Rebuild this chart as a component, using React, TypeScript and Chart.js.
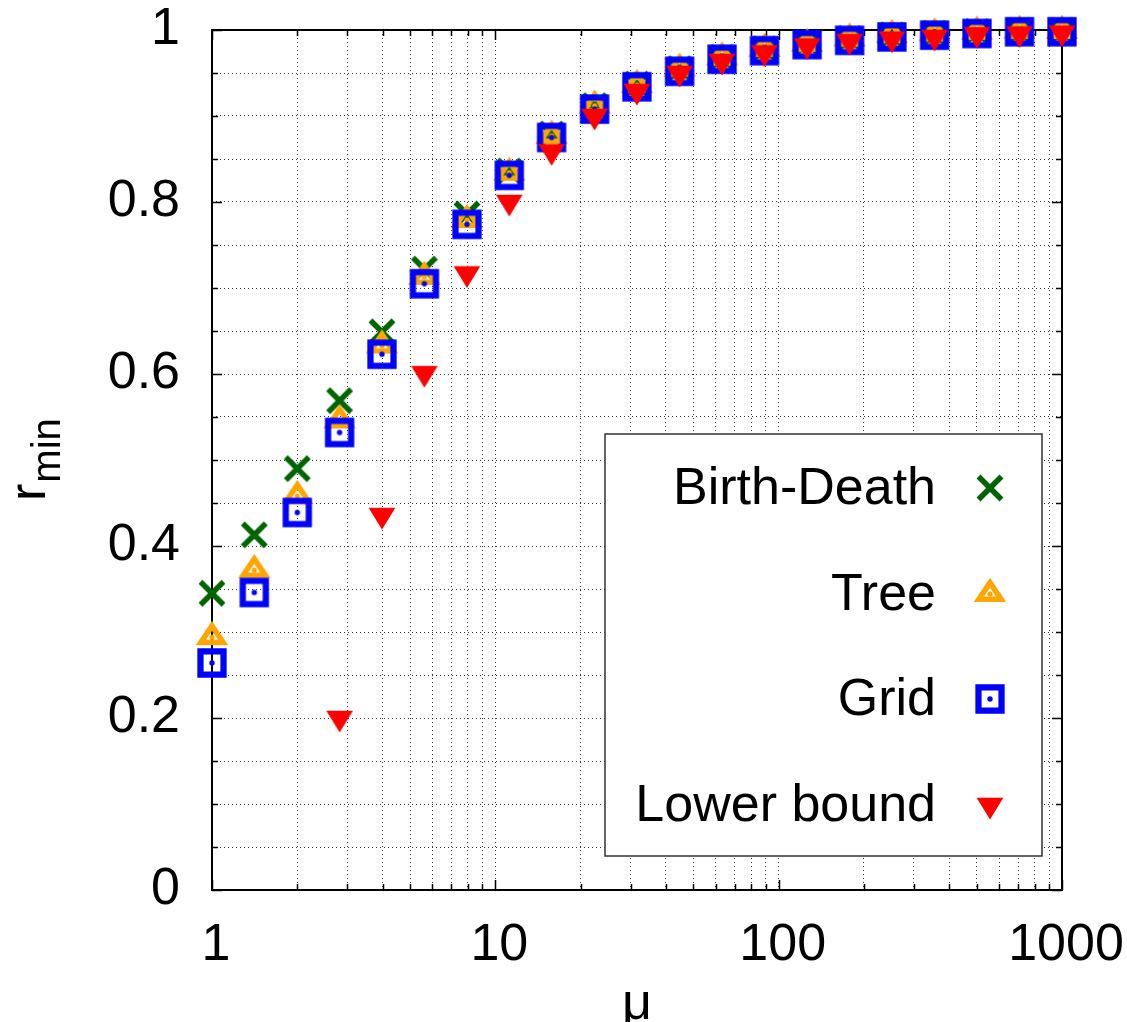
import React, { useEffect, useRef } from 'react';
import { Chart, registerables } from 'chart.js';

Chart.register(...registerables);

// ---- data ----
const muValues = [1, 1.41, 2, 2.82, 3.98, 5.62, 7.94, 11.2, 15.8, 22.4, 31.6, 44.7, 63.1, 89.1, 126, 178, 251, 355, 501, 708, 1000];
const birthDeath = [0.345, 0.413, 0.49, 0.569, 0.649, 0.722, 0.786, 0.836, 0.879, 0.912, 0.937, 0.955, 0.968, 0.978, 0.985, 0.99, 0.994, 0.996, 0.998, 0.999, 0.999];
const tree = [0.294, 0.372, 0.458, 0.546, 0.633, 0.713, 0.779, 0.834, 0.877, 0.912, 0.936, 0.955, 0.968, 0.978, 0.984, 0.99, 0.994, 0.996, 0.998, 0.999, 0.999];
const gridSeries = [0.264, 0.346, 0.439, 0.532, 0.623, 0.705, 0.774, 0.831, 0.875, 0.908, 0.934, 0.952, 0.966, 0.976, 0.983, 0.988, 0.992, 0.994, 0.996, 0.998, 0.998];
const lowerBound: (number | null)[] = [null, null, null, 0.2, 0.436, 0.601, 0.717, 0.8, 0.859, 0.9, 0.929, 0.95, 0.964, 0.974, 0.982, 0.987, 0.99, 0.992, 0.995, 0.996, 0.997];
const seriesLabels = ['Birth-Death', 'Tree', 'Grid', 'Lower bound'];
const xTickLabels = ['1', '10', '100', '1000'];
const yTickLabels = ['0', '0.2', '0.4', '0.6', '0.8', '1'];
const xTitle = 'μ';
const yTitleMain = 'r';
const yTitleSub = 'min';

const FONT = '"Liberation Sans", Arial, sans-serif';

function mkCanvas(size: number) {
  const c = document.createElement('canvas');
  c.width = size;
  c.height = size;
  return c;
}

function crossMarker() {
  const c = mkCanvas(34);
  const g = c.getContext('2d')!;
  const m = 17, d = 11.5;
  g.strokeStyle = '#006400';
  g.lineWidth = 5.5;
  g.lineCap = 'butt';
  g.beginPath();
  g.moveTo(m - d, m - d); g.lineTo(m + d, m + d);
  g.moveTo(m + d, m - d); g.lineTo(m - d, m + d);
  g.stroke();
  return c;
}

function triangleMarker() {
  const c = mkCanvas(40);
  const g = c.getContext('2d')!;
  const cx = 20, cy = 20;
  const v = [[cx, cy - 16.2], [cx - 16.3, cy + 8.1], [cx + 16.3, cy + 8.1]];
  const rin = 8.69;
  const ix = cx, iy = cy + 8.1 - rin;
  const f = (rin - 5.5) / rin;
  const inner = v.map(([x, y]) => [ix + f * (x - ix), iy + f * (y - iy)]);
  g.fillStyle = '#ffa500';
  g.beginPath();
  g.moveTo(v[0][0], v[0][1]); g.lineTo(v[1][0], v[1][1]); g.lineTo(v[2][0], v[2][1]); g.closePath();
  g.moveTo(inner[0][0], inner[0][1]); g.lineTo(inner[2][0], inner[2][1]); g.lineTo(inner[1][0], inner[1][1]); g.closePath();
  g.fill('evenodd');
  g.beginPath();
  g.arc(cx, cy, 2.6, 0, Math.PI * 2);
  g.fill();
  return c;
}

function squareMarker() {
  const c = mkCanvas(36);
  const g = c.getContext('2d')!;
  const m = 18, o = 14.65, i = 8.4;
  g.fillStyle = '#0000ff';
  g.beginPath();
  g.rect(m - o, m - o, 2 * o, 2 * o);
  g.rect(m - i, m - i, 2 * i, 2 * i);
  g.fill('evenodd');
  g.beginPath();
  g.arc(m, m, 2.7, 0, Math.PI * 2);
  g.fill();
  return c;
}

function downTriangleMarker() {
  const c = mkCanvas(34);
  const g = c.getContext('2d')!;
  const m = 17;
  g.fillStyle = '#ff0000';
  g.beginPath();
  g.moveTo(m - 13.35, m - 7.2);
  g.lineTo(m + 13.35, m - 7.2);
  g.lineTo(m, m + 14.5);
  g.closePath();
  g.fill();
  return c;
}

function toPoints(vals: (number | null)[]) {
  const pts: { x: number; y: number }[] = [];
  vals.forEach((v, i) => {
    if (v !== null && v !== undefined) pts.push({ x: muValues[i], y: v });
  });
  return pts;
}

function isPow10(v: number) {
  const l = Math.log10(v);
  return Math.abs(l - Math.round(l)) < 1e-9;
}
function isIntSignificand(v: number) {
  const p = Math.floor(Math.log10(v) + 1e-9);
  const s = v / Math.pow(10, p);
  return Math.abs(s - Math.round(s)) < 1e-6;
}

function zeroPad(s: any) {
  s.paddingTop = 0;
  s.paddingBottom = 0;
  s.paddingLeft = 0;
  s.paddingRight = 0;
}

export default function App() {
  const ref = useRef<HTMLCanvasElement | null>(null);

  useEffect(() => {
    if (!ref.current) return;
    const markers = [crossMarker(), triangleMarker(), squareMarker(), downTriangleMarker()];
    const series = [birthDeath, tree, gridSeries, lowerBound];
    const colors = ['#006400', '#ffa500', '#0000ff', '#ff0000'];

    const decor = {
      id: 'decor',
      beforeDatasetsDraw(chart: any) {
        const { ctx, chartArea: a, scales } = chart;
        ctx.save();
        ctx.strokeStyle = '#000';
        ctx.lineWidth = 1.5;
        ctx.beginPath();
        for (const t of scales.x.ticks) {
          const v = t.value;
          if (!isIntSignificand(v)) continue;
          const px = Math.round(scales.x.getPixelForValue(v)) + 0.5;
          const len = isPow10(v) ? 10 : 6;
          ctx.moveTo(px, a.bottom); ctx.lineTo(px, a.bottom - len);
          ctx.moveTo(px, a.top); ctx.lineTo(px, a.top + len);
        }
        for (const t of scales.y.ticks) {
          const v = t.value;
          const py = Math.round(scales.y.getPixelForValue(v)) + 0.5;
          const major = Math.abs(v * 5 - Math.round(v * 5)) < 1e-6;
          const len = major ? 10 : 6;
          ctx.moveTo(a.left, py); ctx.lineTo(a.left + len, py);
          ctx.moveTo(a.right, py); ctx.lineTo(a.right - len, py);
        }
        ctx.stroke();
        ctx.lineWidth = 2;
        ctx.strokeRect(a.left, a.top, a.right - a.left, a.bottom - a.top);
        ctx.restore();
      },
      afterDatasetsDraw(chart: any) {
        const { ctx, chartArea: a } = chart;
        const bx = a.left + 393, by = a.top + 404;
        const bw = a.right - 20 - bx, bh = a.bottom - 34 - by;
        ctx.save();
        ctx.fillStyle = '#fff';
        ctx.fillRect(bx, by, bw, bh);
        ctx.strokeStyle = '#333';
        ctx.lineWidth = 1.5;
        ctx.strokeRect(bx, by, bw, bh);
        ctx.font = `52px ${FONT}`;
        ctx.fillStyle = '#000';
        ctx.textAlign = 'right';
        ctx.textBaseline = 'alphabetic';
        const textRight = bx + 331;
        const markX = bx + 385;
        seriesLabels.forEach((lab, i) => {
          const base = by + 70 + i * 105.7;
          ctx.fillText(lab, textRight, base);
          const mk = markers[i];
          const my = base - 16;
          ctx.drawImage(mk, Math.round(markX - mk.width / 2), Math.round(my - mk.height / 2));
        });
        ctx.restore();
      },
      afterDraw(chart: any) {
        const { ctx, chartArea: a } = chart;
        ctx.save();
        ctx.fillStyle = '#000';
        ctx.font = `52px ${FONT}`;
        ctx.textAlign = 'center';
        ctx.textBaseline = 'alphabetic';
        ctx.fillText(xTitle, (a.left + a.right) / 2, 1019);
        ctx.translate(45, 501);
        ctx.rotate(-Math.PI / 2);
        ctx.textAlign = 'left';
        ctx.fillText(yTitleMain, 0, 0);
        const w = ctx.measureText(yTitleMain).width;
        ctx.font = `40px ${FONT}`;
        ctx.fillText(yTitleSub, w + 1, 15);
        ctx.restore();
      },
    };

    const gridColor = 'rgba(0,0,0,0.8)';
    const chart = new Chart(ref.current, {
      type: 'scatter',
      data: {
        datasets: seriesLabels.map((lab, i) => ({
          label: lab,
          data: toPoints(series[i]),
          pointStyle: markers[i] as any,
          pointRadius: 14,
          pointHoverRadius: 14,
          backgroundColor: colors[i],
          borderColor: colors[i],
          showLine: false,
          clip: false as any,
          order: 4 - i,
        })),
      },
      options: {
        responsive: false,
        animation: false,
        devicePixelRatio: 1,
        layout: { padding: { top: 30, right: 65, left: 0, bottom: 0 } },
        plugins: { legend: { display: false }, tooltip: { enabled: false } },
        events: [],
        scales: {
          x: {
            type: 'logarithmic',
            position: 'bottom',
            min: 1,
            max: 1000,
            afterFit(s: any) { s.height = 132; zeroPad(s); },
            grid: { color: gridColor, lineWidth: 1, drawTicks: false },
            border: { display: false, dash: [1, 3] },
            ticks: {
              autoSkip: false,
              maxRotation: 0,
              minRotation: 0,
              padding: 24,
              labelOffset: 4,
              color: '#000',
              font: { family: FONT, size: 52 },
              callback(value: any) {
                const v = Number(value);
                if (!isIntSignificand(v)) return null;
                if (isPow10(v)) return xTickLabels[Math.round(Math.log10(v))] ?? '';
                return '';
              },
            },
          },
          y: {
            type: 'linear',
            min: 0,
            max: 1,
            afterFit(s: any) { s.width = 212; zeroPad(s); },
            grid: { color: gridColor, lineWidth: 1, drawTicks: false },
            border: { display: false, dash: [1, 3] },
            ticks: {
              stepSize: 0.05,
              autoSkip: false,
              padding: 32,
              color: '#000',
              font: { family: FONT, size: 52 },
              callback(value: any) {
                const v = Number(value);
                const k = v * 5;
                if (Math.abs(k - Math.round(k)) < 1e-6) return yTickLabels[Math.round(k)] ?? '';
                return '';
              },
            },
          },
        },
      } as any,
      plugins: [decor],
    });
    return () => chart.destroy();
  }, []);

  return (
    <div style={{ position: 'absolute', left: 0, top: 0, width: 1127, height: 1022, background: '#fff' }}>
      <canvas ref={ref} width={1127} height={1022} style={{ display: 'block', width: 1127, height: 1022 }} />
    </div>
  );
}
